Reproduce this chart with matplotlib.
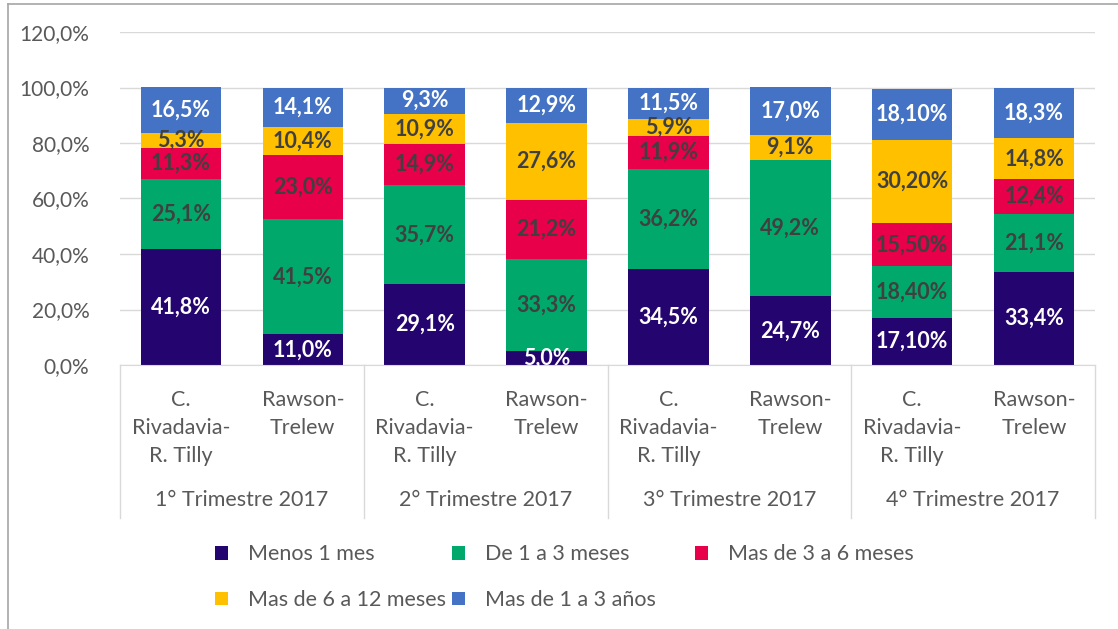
import numpy as np
import matplotlib.pyplot as plt
from matplotlib.lines import Line2D
from matplotlib.patches import Patch

plt.rcParams["font.family"] = ["Lato", "DejaVu Sans"]

bar_labels = ["C.\nRivadavia-\nR. Tilly", "Rawson-\nTrelew"] * 4
groups = ["1° Trimestre 2017", "2° Trimestre 2017", "3° Trimestre 2017", "4° Trimestre 2017"]
series_names = ["Menos 1 mes", "De 1 a 3 meses", "Mas de 3 a 6 meses",
                "Mas de 6 a 12 meses", "Mas de 1 a 3 años"]
menos_1 = [41.8, 11.0, 29.1, 5.0, 34.5, 24.7, 17.1, 33.4]
de_1_3 = [25.1, 41.5, 35.7, 33.3, 36.2, 49.2, 18.4, 21.1]
de_3_6 = [11.3, 23.0, 14.9, 21.2, 11.9, 0.0, 15.5, 12.4]
de_6_12 = [5.3, 10.4, 10.9, 27.6, 5.9, 9.1, 30.2, 14.8]
de_1_3_anos = [16.5, 14.1, 9.3, 12.9, 11.5, 17.0, 18.1, 18.3]
label_decimals = [1, 1, 1, 1, 1, 1, 2, 1]

series = [menos_1, de_1_3, de_3_6, de_6_12, de_1_3_anos]
colors = ["#24046e", "#00a96b", "#e8004b", "#ffc000", "#4472c4"]
text_colors = ["white", "#404040", "#404040", "#404040", "white"]

fig = plt.figure(figsize=(11.18, 6.29), dpi=100)
ax = fig.add_axes([120 / 1118, 1 - 365 / 629, 975 / 1118, 333 / 629])

x = np.arange(len(bar_labels))
bottom = np.zeros(len(x))
for vals, col, tcol in zip(series, colors, text_colors):
    v = np.array(vals) / 100
    ax.bar(x, v, 0.66, bottom=bottom, color=col, zorder=2)
    for xi, b, h, d in zip(x, bottom, v, label_decimals):
        if h > 0:
            txt = f"{h * 100:.{d}f}%".replace(".", ",")
            ax.text(xi, b + h / 2, txt, ha="center", va="center", color=tcol,
                    fontsize=15.5, fontweight="bold", zorder=3)
    bottom += v

ax.set_xlim(-0.5, len(x) - 0.5)
ax.set_ylim(0, 1.2)
ax.set_yticks(np.arange(0, 1.21, 0.2))
ax.set_yticklabels([f"{t * 100:.1f}%".replace(".", ",") for t in np.arange(0, 1.21, 0.2)])
ax.tick_params(axis="y", length=0, labelsize=15, labelcolor="#595959", pad=22)
ax.set_xticks([])
ax.grid(axis="y", color="#d9d9d9", linewidth=1, zorder=0)
for s in ["top", "right", "left"]:
    ax.spines[s].set_visible(False)
ax.spines["bottom"].set_color("#d9d9d9")

# category labels, group labels and separators
trans = ax.get_xaxis_transform()
for xi, lab in zip(x, bar_labels):
    ax.text(xi, -0.074, lab, transform=trans, ha="center", va="top",
            fontsize=15.5, color="#595959", linespacing=1.5)
for i, g in enumerate(groups):
    ax.text(2 * i + 0.5, -0.405, g, transform=trans, ha="center", va="center",
            fontsize=15.5, color="#595959")
for xs in np.arange(-0.5, len(x), 2):
    ax.add_line(Line2D([xs, xs], [0, -0.46], transform=trans, color="#d9d9d9",
                       linewidth=1, clip_on=False))

# legend: one single-column legend per column so the columns line up as in Excel
handles = [Patch(facecolor=c) for c in colors]
legend_cols = [[0, 3], [1, 4], [2]]
col_x = [196, 433, 676]
for idx, cx in zip(legend_cols, col_x):
    fig.legend([handles[i] for i in idx], [series_names[i] for i in idx],
               ncol=1, loc="upper left", bbox_to_anchor=(cx / 1118, 1 - 525 / 629),
               frameon=False, fontsize=15.5, labelcolor="#595959",
               handlelength=0.6, handleheight=0.6, handletextpad=0.9,
               labelspacing=1.2)

# chart frame
fig.add_artist(Line2D([8 / 1118, 8 / 1118], [0, 1 - 4 / 629], color="#a6a6a6", linewidth=1.2))
fig.add_artist(Line2D([8 / 1118, 1], [1 - 4 / 629, 1 - 4 / 629], color="#a6a6a6", linewidth=1.2))

fig.savefig("out.png", dpi=100)
